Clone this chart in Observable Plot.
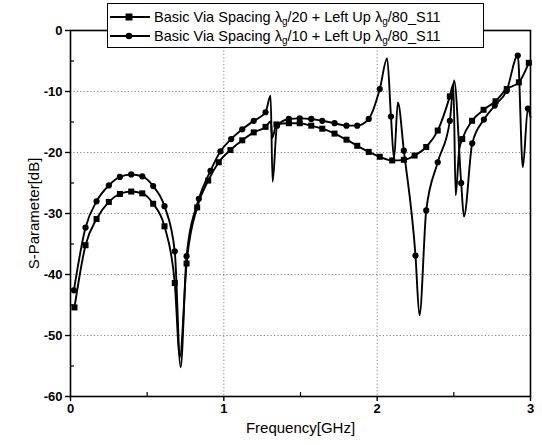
<!DOCTYPE html>
<html><head><meta charset="utf-8">
<script src="https://cdn.jsdelivr.net/npm/d3@7"></script>
<script src="https://cdn.jsdelivr.net/npm/@observablehq/plot@0.6"></script>
<style>
body{margin:0;background:#fff;font-family:"Liberation Sans",Arial,sans-serif;}
#wrap{position:relative;width:542px;height:445px;}
#legend{position:absolute;left:107px;top:3px;width:377px;height:45px;background:#fff;border:1.3px solid #000;box-sizing:border-box;z-index:2;}
.row{position:absolute;left:2px;height:20px;display:flex;align-items:center;font-size:14.5px;color:#000;white-space:nowrap;}
.row svg{margin-right:4px;}
sub{font-size:10px;vertical-align:-3px;line-height:0;}
</style></head><body>
<div id="wrap"><div id="chart"></div><div id="legend"></div></div>
<script>
// Series names
const seriesNames = [
  "Basic Via Spacing λ<sub>g</sub>/20 + Left Up λ<sub>g</sub>/80_S11",
  "Basic Via Spacing λ<sub>g</sub>/10 + Left Up λ<sub>g</sub>/80_S11"
];
const seriesSymbols = ["square", "circle"];

// Series A (λg/20) — marker points
const freqA = [0.026,0.098,0.170,0.250,0.322,0.396,0.468,0.539,0.613,0.680,0.757,0.826,0.898,0.967,1.043,1.120,1.195,1.272,1.343,1.424,1.495,1.570,1.642,1.722,1.800,1.870,1.945,2.017,2.098,2.174,2.244,2.320,2.395,2.474,2.555,2.619,2.694,2.772,2.845,2.924,2.989];
const sA    = [-45.4,-35.2,-30.9,-28.1,-26.8,-26.4,-26.7,-28.4,-32.1,-41.4,-38.2,-29.0,-24.6,-21.6,-19.6,-18.0,-16.7,-15.8,-15.4,-15.2,-15.2,-15.6,-16.1,-16.9,-17.9,-18.9,-19.9,-20.7,-21.3,-21.2,-20.5,-19.1,-16.4,-10.8,-17.8,-14.8,-13.0,-11.6,-9.6,-8.5,-5.3];
// Series A — resonance points between markers
const spikeFreqA = [0.713,1.306,1.316,2.497,2.512,2.535];
const spikeA     = [-53.5,-14.9,-17.6,-8.8,-27.0,-19.5];

// Series B (λg/10) — marker points
const freqB = [0.022,0.098,0.170,0.250,0.322,0.396,0.468,0.539,0.613,0.680,0.757,0.837,0.913,0.978,1.048,1.120,1.195,1.272,1.347,1.424,1.495,1.570,1.642,1.722,1.800,1.870,1.945,2.017,2.090,2.174,2.250,2.320,2.395,2.474,2.548,2.620,2.696,2.767,2.844,2.917,2.983];
const sB    = [-42.6,-32.3,-28.0,-25.4,-24.0,-23.6,-23.9,-25.5,-28.8,-36.2,-37.0,-27.6,-23.0,-19.8,-17.8,-16.2,-14.8,-13.4,-15.6,-14.5,-14.4,-14.5,-14.8,-15.2,-15.6,-15.6,-14.5,-9.6,-14.1,-19.7,-36.9,-29.5,-21.6,-14.8,-25.0,-18.5,-14.6,-12.3,-9.9,-4.1,-12.8];
// Series B — resonance points between markers
const spikeFreqB = [0.718,1.305,1.318,2.065,2.110,2.135,2.276,2.502,2.566,2.950,3.000];
const spikeB     = [-55.2,-10.7,-24.8,-4.6,-21.0,-11.8,-46.7,-8.2,-30.5,-22.4,-14.2];

// Axis ticks
const xTicks = [0,1,2,3];
const xMinor = [0.5,1.5,2.5];
const yTicks = [0,-10,-20,-30,-40,-50,-60];
const yMinor = [-5,-15,-25,-35,-45,-55];
const xGrid = [1,2];
const yGrid = [-10,-20,-30,-40,-50];

const pts = (f, v) => f.map((x, i) => ({f: x, v: v[i]}));
const markA = pts(freqA, sA), markB = pts(freqB, sB);
const lineA = markA.concat(pts(spikeFreqA, spikeA)).sort((a,b) => a.f - b.f);
const lineB = markB.concat(pts(spikeFreqB, spikeB)).sort((a,b) => a.f - b.f);
const fmt = d => String(d);

const chart = Plot.plot({
  width: 542, height: 445,
  marginLeft: 70, marginRight: 12, marginTop: 30, marginBottom: 49,
  style: {fontFamily: "Liberation Sans, Arial, sans-serif", fontSize: "13px", background: "white", color: "black", overflow: "visible"},
  x: {domain: [0, 3]},
  y: {domain: [-60, 0]},
  marks: [
    Plot.gridX(xGrid, {stroke: "#333", strokeOpacity: 0.6, strokeDasharray: "1.2,2.2"}),
    Plot.gridY(yGrid, {stroke: "#333", strokeOpacity: 0.6, strokeDasharray: "1.2,2.2"}),
    Plot.line(lineA, {x: "f", y: "v", stroke: "black", strokeWidth: 1.9, curve: "monotone-x"}),
    Plot.line(lineB, {x: "f", y: "v", stroke: "black", strokeWidth: 1.9, curve: "monotone-x"}),
    Plot.dot(markA, {x: "f", y: "v", symbol: "square", r: 3.4, fill: "black", stroke: "none"}),
    Plot.dot(markB, {x: "f", y: "v", symbol: "circle", r: 3.1, fill: "black", stroke: "none"}),
    Plot.frame({stroke: "black", strokeWidth: 1.6}),
    Plot.axisX(xTicks, {tickSize: 5, tickPadding: 2, tickFormat: fmt, fontWeight: "bold", fontSize: 13, label: null, strokeWidth: 1.4}),
    Plot.axisX(xMinor, {tickSize: -4, text: null, label: null, strokeWidth: 1.2}),
    Plot.axisY(yTicks, {tickSize: 5, tickPadding: 3, tickFormat: fmt, fontWeight: "bold", fontSize: 13, label: null, strokeWidth: 1.4}),
    Plot.axisY(yMinor, {tickSize: -4, text: null, label: null, strokeWidth: 1.2}),
    Plot.text(["Frequency[GHz]"], {frameAnchor: "bottom", dy: 36, fontSize: 15, fill: "black"}),
    Plot.text(["S-Parameter[dB]"], {frameAnchor: "left", dx: -36, rotate: -90, textAnchor: "middle", fontSize: 15, fill: "black"})
  ]
});
document.getElementById("chart").appendChild(chart);

// Legend
const legend = document.getElementById("legend");
seriesNames.forEach((name, i) => {
  const row = document.createElement("div");
  row.className = "row";
  row.style.top = (i === 0 ? 3 : 22) + "px";
  const sym = seriesSymbols[i] === "square"
    ? '<rect x="15.5" y="2.5" width="7" height="7" fill="black"/>'
    : '<circle cx="19" cy="6" r="3.3" fill="black"/>';
  row.innerHTML = '<svg width="40" height="12"><line x1="0" y1="6" x2="40" y2="6" stroke="black" stroke-width="1.8"/>' + sym + '</svg><span>' + name + '</span>';
  legend.appendChild(row);
});
</script>
</body></html>
